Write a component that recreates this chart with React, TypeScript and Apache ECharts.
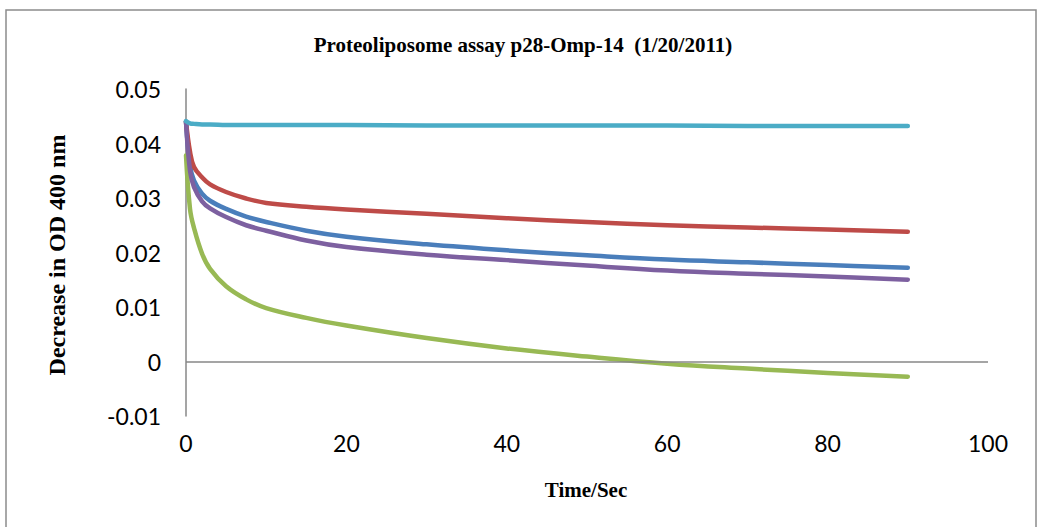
import React, { useEffect, useRef } from "react";
import * as echarts from "echarts";

const TITLE = "Proteoliposome assay p28-Omp-14  (1/20/2011)";
const X_NAME = "Time/Sec";
const Y_NAME = "Decrease in OD 400 nm";

const times = [0, 0.5, 1, 2, 3, 5, 7.5, 10, 15, 20, 30, 40, 50, 60, 70, 80, 90];

const blue = [0.0440, 0.0360, 0.0332, 0.0308, 0.0295, 0.0280, 0.0266, 0.0256, 0.0240, 0.0229, 0.0215, 0.0204, 0.0195, 0.0187, 0.0182, 0.0177, 0.0172];
const red = [0.0440, 0.0385, 0.0357, 0.0338, 0.0325, 0.0311, 0.0299, 0.0291, 0.0284, 0.0279, 0.0271, 0.0263, 0.0256, 0.0250, 0.0246, 0.0242, 0.0238];
const green = [0.0378, 0.0280, 0.0245, 0.0198, 0.0170, 0.0138, 0.0114, 0.0098, 0.0080, 0.0066, 0.0043, 0.0024, 0.0009, -0.0004, -0.0013, -0.0021, -0.0028];
const purple = [0.0440, 0.0350, 0.0320, 0.0294, 0.0281, 0.0265, 0.0250, 0.0240, 0.0222, 0.0210, 0.0196, 0.0186, 0.0176, 0.0167, 0.0161, 0.0156, 0.0150];
const cyan = [0.0441, 0.0437, 0.0436, 0.0435, 0.0435, 0.0434, 0.0434, 0.0434, 0.0434, 0.0434, 0.0433, 0.0433, 0.0433, 0.0433, 0.0432, 0.0432, 0.0432];

const seriesDefs = [
  { name: "Series1", color: "#4A7EBB", values: blue },
  { name: "Series2", color: "#BE4B48", values: red },
  { name: "Series3", color: "#98B954", values: green },
  { name: "Series4", color: "#7D60A0", values: purple },
  { name: "Series5", color: "#4BACC6", values: cyan },
];

export default function App() {
  const ref = useRef<HTMLDivElement>(null);
  useEffect(() => {
    if (!ref.current) return;
    const chart = echarts.init(ref.current, undefined, { renderer: "svg" });
    const series: any[] = seriesDefs.map((s) => ({
      type: "line",
      name: s.name,
      data: times.map((t, j) => [t, s.values[j]]),
      showSymbol: false,
      smooth: 0.4,
      lineStyle: { color: s.color, width: 4.5, cap: "round", join: "round" },
      itemStyle: { color: s.color },
      z: 3,
    }));
    series.unshift({
      type: "line",
      data: [],
      markLine: {
        silent: true,
        symbol: ["none", "none"],
        label: { show: false },
        lineStyle: { color: "#878787", width: 1.5, type: "solid" },
        data: [{ yAxis: 0 }],
      },
      z: 1,
    });
    chart.setOption({
      animation: false,
      backgroundColor: "#ffffff",
      grid: { left: 186, top: 89, right: 52, bottom: 111 },
      xAxis: {
        type: "value",
        min: 0,
        max: 100,
        interval: 20,
        axisLine: { show: false, onZero: false },
        axisTick: { show: false },
        splitLine: { show: false },
        axisLabel: { color: "#000", fontFamily: "Lato", fontSize: 23, margin: 15 },
      },
      yAxis: {
        type: "value",
        min: -0.01,
        max: 0.05,
        interval: 0.01,
        axisLine: { show: true, onZero: false, lineStyle: { color: "#878787", width: 1.5 } },
        axisTick: { show: false },
        splitLine: { show: false },
        axisLabel: {
          color: "#000",
          fontFamily: "Lato",
          fontSize: 23,
          margin: 25,
          formatter: (v: number) => String(Math.round(v * 1000) / 1000),
        },
      },
      graphic: [
        {
          type: "rect",
          shape: { x: 6, y: 10, width: 1030, height: 530 },
          style: { fill: "none", stroke: "#8c8c8c", lineWidth: 1.5 },
          silent: true,
          z: -1,
        },
        {
          type: "text",
          x: 523,
          y: 45,
          style: {
            text: TITLE,
            font: "bold 21px 'Liberation Serif', serif",
            fill: "#000",
            align: "center",
            verticalAlign: "middle",
          },
        },
        {
          type: "text",
          x: 586,
          y: 490,
          style: {
            text: X_NAME,
            font: "bold 21px 'Liberation Serif', serif",
            fill: "#000",
            align: "center",
            verticalAlign: "middle",
          },
        },
        {
          type: "text",
          x: 57,
          y: 255,
          rotation: Math.PI / 2,
          style: {
            text: Y_NAME,
            font: "bold 24px 'Liberation Serif', serif",
            fill: "#000",
            align: "center",
            verticalAlign: "middle",
          },
        },
      ],
      series,
    });
    return () => chart.dispose();
  }, []);
  return (
    <div
      ref={ref}
      style={{ position: "absolute", left: 0, top: 0, width: 1040, height: 527 }}
    />
  );
}
